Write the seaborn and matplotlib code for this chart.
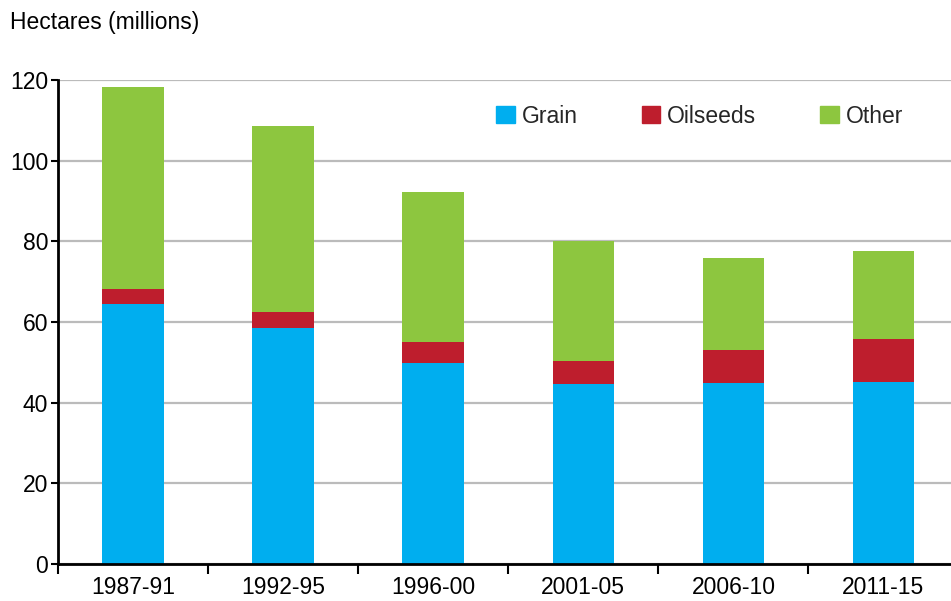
import matplotlib
matplotlib.use("Agg")
import matplotlib.pyplot as plt
import seaborn as sns
import pandas as pd
import numpy as np
from matplotlib.patches import Patch

periods = ["1987-91", "1992-95", "1996-00", "2001-05", "2006-10", "2011-15"]
grain = [64.5, 58.5, 49.9, 44.7, 44.9, 45.2]
oilseeds = [3.7, 4.1, 5.1, 5.6, 8.1, 10.7]
other = [50.0, 46.0, 37.2, 29.7, 22.8, 21.7]

sns.set_theme(style="white")
plt.rcParams['font.family'] = ['Liberation Sans', 'DejaVu Sans']

c_grain = "#00AEEF"
c_oil = "#BE1E2D"
c_other = "#8DC63F"
FS = 16.5

df = pd.DataFrame({"period": periods, "grain": grain, "oilseeds": oilseeds, "other": other})
df["lvl2"] = df["grain"] + df["oilseeds"]
df["lvl3"] = df["lvl2"] + df["other"]

fig = plt.figure(figsize=(9.51, 6.01), dpi=100)
ax = fig.add_axes([58/951, 37/601, 1 - 58/951, (564-80)/601])

for col, c in [("lvl3", c_other), ("lvl2", c_oil), ("grain", c_grain)]:
    sns.barplot(data=df, x="period", y=col, color=c, width=0.41, ax=ax,
                saturation=1, linewidth=0, zorder=3)

ax.set_ylim(0, 120)
ax.set_xlim(-0.5, 5.45)
ax.set_yticks(np.arange(0, 121, 20))
ax.yaxis.grid(True, color="#BBBBBB", linewidth=1.6, zorder=0)
ax.set_axisbelow(True)
ax.set_xlabel("")
ax.set_ylabel("")

for s in ["top", "right"]:
    ax.spines[s].set_visible(False)
for s in ["left", "bottom"]:
    ax.spines[s].set_color("black")
    ax.spines[s].set_linewidth(2)
    ax.spines[s].set_zorder(5)

ax.tick_params(axis="y", which="major", length=5, width=1.5, color="black",
               labelsize=FS, pad=2, left=True, labelcolor="black")
ax.tick_params(axis="x", which="major", length=0, labelsize=FS, pad=9, labelcolor="black")
ax.set_xticks(np.arange(-0.5, 5.5, 1), minor=True)
ax.tick_params(axis="x", which="minor", length=7, width=1.5, color="black", bottom=True)

handles = [Patch(color=c_grain, label="Grain"), Patch(color=c_oil, label="Oilseeds"),
           Patch(color=c_other, label="Other")]
ax.legend(handles=handles, ncol=3, frameon=False, fontsize=FS,
          loc="center left", bbox_to_anchor=(0.478, 0.9256), borderpad=0,
          handlelength=0.8, handleheight=0.8, handletextpad=0.3, columnspacing=2.8)

fig.text(10/951, 1 - 23/601, "Hectares (millions)", fontsize=FS, va="center", ha="left",
         color="black")

fig.savefig("out.png", dpi=100)
